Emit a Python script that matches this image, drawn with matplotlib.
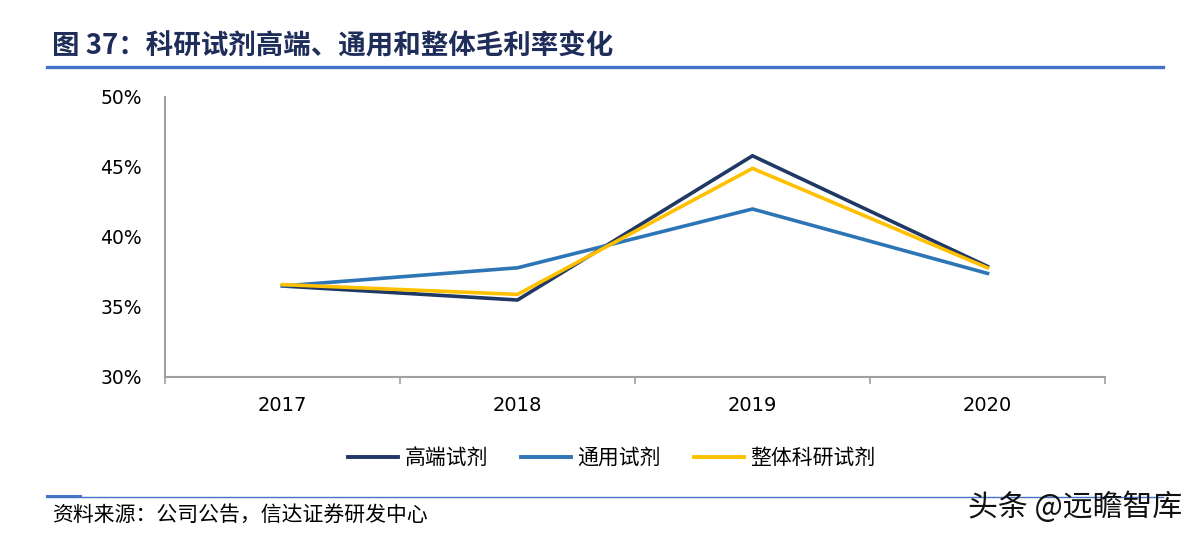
import matplotlib
matplotlib.use("Agg")
import matplotlib.pyplot as plt
from matplotlib.lines import Line2D

plt.rcParams['font.family'] = ['Noto Sans CJK SC', 'DejaVu Sans']

years = ["2017", "2018", "2019", "2020"]
high_end = [36.5, 35.5, 45.8, 37.9]
general = [36.5, 37.8, 42.0, 37.4]
overall = [36.6, 35.9, 44.9, 37.8]
series_names = ["高端试剂", "通用试剂", "整体科研试剂"]
colors = ["#1F3864", "#2E75B6", "#FFC000"]
yticks = [30, 35, 40, 45, 50]

W, H = 1197, 538
fig = plt.figure(figsize=(W/100, H/100), dpi=100)
ax = fig.add_axes([165/W, 1-377/H, (1105-165)/W, (377-97)/H])

x = list(range(len(years)))
for vals, c, n in zip([high_end, general, overall], colors, series_names):
    ax.plot(x, vals, color=c, lw=2.6, label=n, solid_joinstyle='miter')

ax.set_xlim(-0.5, len(years)-0.5)
ax.set_ylim(30, 50)
ax.set_yticks(yticks)
ax.set_yticklabels([f"{v}%" for v in yticks], fontfamily='DejaVu Sans', fontsize=13.5)
ax.set_xticks(x)
ax.set_xticklabels(years, fontfamily='DejaVu Sans', fontsize=14)
ax.set_xticks([i-0.5 for i in range(len(years)+1)], minor=True)
ax.tick_params(axis='x', which='major', length=0, pad=14)
ax.tick_params(axis='x', which='minor', length=5, color='#A0A0A0', width=1.2)
ax.tick_params(axis='y', length=0, pad=16.5)
for s in ['top', 'right']:
    ax.spines[s].set_visible(False)
for s in ['left', 'bottom']:
    ax.spines[s].set_color('#A0A0A0')
    ax.spines[s].set_linewidth(1.5)

handles = [Line2D([0], [0], color=c, lw=2.8) for c in colors]
fig.legend(handles, series_names, loc='center', bbox_to_anchor=(612/W, 1-458/H),
           ncol=3, frameon=False, fontsize=15, handlelength=2.4, handletextpad=0.3,
           columnspacing=1.6)

# title
fig.text(52/W, 1-47/H, "图 37：科研试剂高端、通用和整体毛利率变化", fontsize=19.8,
         fontweight='bold', color='#1F2D5A', va='center', ha='left')
fig.add_artist(Line2D([47/W, 1163/W], [1-67/H, 1-67/H], color='#4472C4', lw=2.4))

# bottom rule
fig.add_artist(Line2D([47/W, 1163/W], [1-497/H, 1-497/H], color='#4472C4', lw=1.0))
fig.add_artist(Line2D([47/W, 80/W], [1-496/H, 1-496/H], color='#4472C4', lw=2.2))
fig.text(52/W, 1-515/H, "资料来源：公司公告，信达证券研发中心", fontsize=15,
         style='italic', color='#000000', va='center', ha='left')
fig.text(1182/W, 1-507/H, "头条 @远瞻智库", fontsize=21.5, color='#111111',
         va='center', ha='right')

fig.savefig("out.png", dpi=100)
